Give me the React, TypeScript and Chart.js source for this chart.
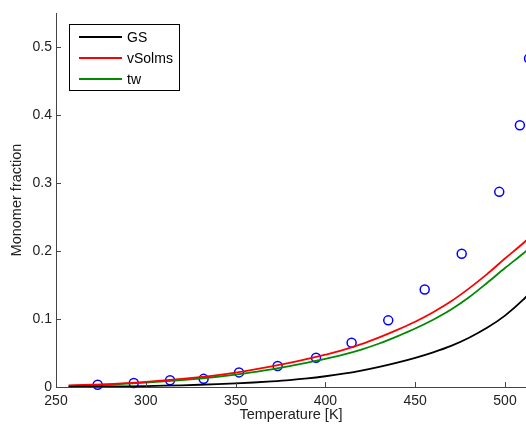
import React, { useEffect, useRef } from "react";
import { Chart, registerables } from "chart.js";

Chart.register(...registerables);

// Curve temperature grid [K]
const curveT = [257, 270, 280, 290, 300, 310, 320, 330, 340, 350, 360, 370, 380, 390, 400, 410, 420, 430, 440, 450, 460, 470, 480, 490, 500, 510, 515];
// GS (black)
const gsValues = [0.0003, 0.0005, 0.0007, 0.001, 0.0014, 0.0019, 0.0025, 0.0033, 0.0042, 0.0053, 0.0066, 0.0082, 0.0101, 0.0126, 0.0158, 0.0196, 0.0242, 0.0296, 0.0357, 0.0428, 0.051, 0.0605, 0.0725, 0.087, 0.105, 0.128, 0.142];
// vSolms (red)
const vsolmsValues = [0.0022, 0.0033, 0.0043, 0.0058, 0.0075, 0.0096, 0.012, 0.0146, 0.0176, 0.0212, 0.0255, 0.0303, 0.0355, 0.0412, 0.0475, 0.0545, 0.063, 0.073, 0.084, 0.096, 0.11, 0.126, 0.145, 0.166, 0.189, 0.211, 0.223];
// tw (green)
const twValues = [0.0018, 0.0028, 0.0037, 0.0049, 0.0064, 0.0082, 0.0102, 0.0125, 0.0151, 0.0182, 0.0218, 0.026, 0.0306, 0.0357, 0.0412, 0.0475, 0.055, 0.064, 0.0745, 0.086, 0.099, 0.114, 0.132, 0.153, 0.175, 0.196, 0.207];

// Measured points (blue circles)
const pointT = [273.2, 293.3, 313.5, 332.2, 351.9, 373.4, 394.8, 414.6, 435.0, 455.3, 475.9, 496.8, 508.3, 513.4];
const pointValues = [0.0034, 0.006, 0.01, 0.012, 0.0215, 0.031, 0.043, 0.065, 0.098, 0.1435, 0.196, 0.287, 0.385, 0.483];

const seriesLabels = ["GS", "vSolms", "tw"];
const seriesColors = ["#000000", "#ff0000", "#008a00"];

const xTitle = "Temperature [K]";
const yTitle = "Monomer fraction";

const FONT = "'Liberation Sans', Arial, Helvetica, sans-serif";
const AXIS_COLOR = "#444444";
const TEXT_COLOR = "#222222";

const toXY = (xs: number[], ys: number[]) => xs.map((x, i) => ({ x, y: ys[i] }));

const innerTicks = {
  id: "innerTicks",
  afterDraw(chart: any) {
    const { ctx, chartArea } = chart;
    const xs = chart.scales.x;
    const ys = chart.scales.y;
    ctx.save();
    ctx.strokeStyle = AXIS_COLOR;
    ctx.lineWidth = 1;
    ctx.beginPath();
    xs.ticks.forEach((t: any) => {
      const px = Math.round(xs.getPixelForValue(t.value)) + 0.5;
      ctx.moveTo(px, chartArea.bottom);
      ctx.lineTo(px, chartArea.bottom - 5);
    });
    ys.ticks.forEach((t: any) => {
      const py = Math.round(ys.getPixelForValue(t.value)) + 0.5;
      ctx.moveTo(chartArea.left, py);
      ctx.lineTo(chartArea.left + 5, py);
    });
    ctx.stroke();
    ctx.restore();
  },
};

const boxLegend = {
  id: "boxLegend",
  afterDraw(chart: any) {
    const { ctx } = chart;
    const bx = 69.5, by = 24.5, bw = 110, bh = 66;
    ctx.save();
    ctx.fillStyle = "#ffffff";
    ctx.fillRect(bx, by, bw, bh);
    ctx.strokeStyle = "#000000";
    ctx.lineWidth = 1;
    ctx.strokeRect(bx, by, bw, bh);
    ctx.font = `14px ${FONT}`;
    ctx.textBaseline = "middle";
    ctx.textAlign = "left";
    for (let i = 0; i < 3; i++) {
      const ds = chart.data.datasets[i];
      const y = 37 + i * 21;
      ctx.strokeStyle = ds.borderColor;
      ctx.lineWidth = 2;
      ctx.beginPath();
      ctx.moveTo(79, y);
      ctx.lineTo(122, y);
      ctx.stroke();
      ctx.fillStyle = "#000000";
      ctx.fillText(ds.label, 127, y + 1);
    }
    ctx.restore();
  },
};

export default function App() {
  const ref = useRef<HTMLCanvasElement | null>(null);

  useEffect(() => {
    if (!ref.current) return;
    const lineDs = (i: number, vals: number[]) => ({
      type: "scatter" as const,
      label: seriesLabels[i],
      data: toXY(curveT, vals),
      showLine: true,
      borderColor: seriesColors[i],
      backgroundColor: seriesColors[i],
      borderWidth: 1.8,
      pointRadius: 0,
      cubicInterpolationMode: "monotone" as const,
    });
    const chart = new Chart(ref.current, {
      type: "scatter",
      data: {
        datasets: [
          lineDs(0, gsValues),
          lineDs(1, vsolmsValues),
          lineDs(2, twValues),
          {
            label: "data",
            data: toXY(pointT, pointValues),
            showLine: false,
            borderColor: "#0000ff",
            backgroundColor: "rgba(0,0,0,0)",
            borderWidth: 1.5,
            pointRadius: 4.5,
            pointStyle: "circle",
            clip: false as any,
          } as any,
        ],
      },
      options: {
        animation: false,
        responsive: false,
        layout: { autoPadding: false, padding: { top: 13, right: 0, bottom: 0, left: 0 } },
        plugins: { legend: { display: false }, tooltip: { enabled: false } },
        scales: {
          x: {
            type: "linear",
            min: 250,
            max: 511.7,
            afterFit: (s: any) => { s.height = 37; s.paddingRight = 0; s.paddingLeft = 0; },
            grid: { display: false, drawTicks: false },
            border: { display: true, color: AXIS_COLOR, width: 1 },
            ticks: {
              stepSize: 50,
              includeBounds: false,
              padding: 6,
              color: TEXT_COLOR,
              font: { family: FONT, size: 14 },
              maxRotation: 0,
            },
            title: {
              display: true,
              text: xTitle,
              color: TEXT_COLOR,
              font: { family: FONT, size: 14.5 },
              padding: { top: 0, bottom: 0 },
            },
          },
          y: {
            type: "linear",
            min: 0,
            max: 0.55,
            afterFit: (s: any) => { s.width = 56; s.paddingTop = 0; s.paddingBottom = 0; },
            grid: { display: false, drawTicks: false },
            border: { display: true, color: AXIS_COLOR, width: 1 },
            ticks: {
              stepSize: 0.1,
              includeBounds: false,
              padding: 4,
              color: TEXT_COLOR,
              font: { family: FONT, size: 14 },
            },
            title: {
              display: true,
              text: yTitle,
              color: TEXT_COLOR,
              font: { family: FONT, size: 14.5 },
              padding: { top: 8, bottom: 0 },
            },
          },
        },
      },
      plugins: [innerTicks, boxLegend],
    });
    return () => chart.destroy();
  }, []);

  return (
    <div style={{ position: "absolute", left: 0, top: 0, width: 526, height: 424, background: "#fff" }}>
      <canvas ref={ref} width={526} height={424} style={{ display: "block" }} />
    </div>
  );
}
